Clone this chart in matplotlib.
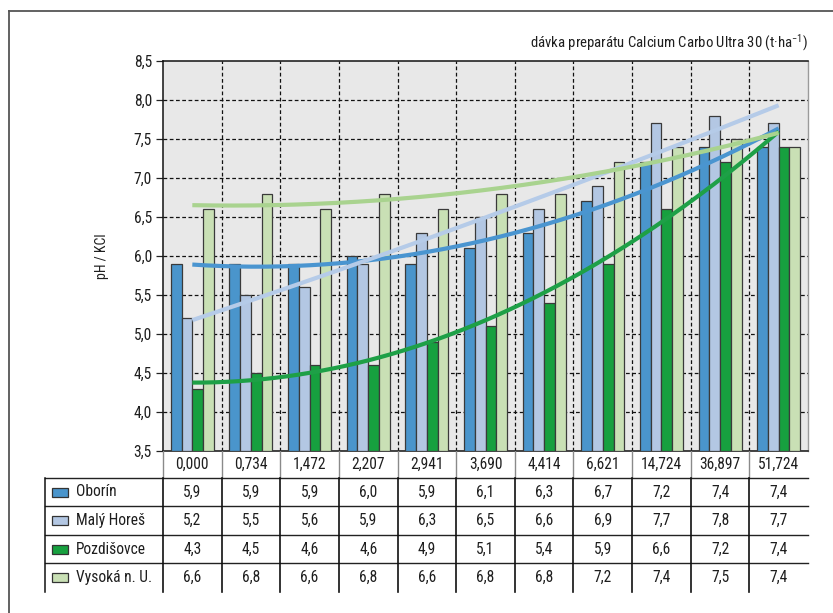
import numpy as np
import matplotlib
matplotlib.use("Agg")
import matplotlib.pyplot as plt
from matplotlib import font_manager as fm
from matplotlib.transforms import blended_transform_factory
from matplotlib.patches import Rectangle
from matplotlib.lines import Line2D

# ---- data -------------------------------------------------------------
doses = ["0,000", "0,734", "1,472", "2,207", "2,941", "3,690",
         "4,414", "6,621", "14,724", "36,897", "51,724"]
series_names = ["Oborín", "Malý Horeš", "Pozdišovce", "Vysoká n. U."]
oborin = [5.9, 5.9, 5.9, 6.0, 5.9, 6.1, 6.3, 6.7, 7.2, 7.4, 7.4]
maly_hores = [5.2, 5.5, 5.6, 5.9, 6.3, 6.5, 6.6, 6.9, 7.7, 7.8, 7.7]
pozdisovce = [4.3, 4.5, 4.6, 4.6, 4.9, 5.1, 5.4, 5.9, 6.6, 7.2, 7.4]
vysoka = [6.6, 6.8, 6.6, 6.8, 6.6, 6.8, 6.8, 7.2, 7.4, 7.5, 7.4]
y_ticks = [3.5, 4.0, 4.5, 5.0, 5.5, 6.0, 6.5, 7.0, 7.5, 8.0, 8.5]

all_series = [oborin, maly_hores, pozdisovce, vysoka]
bar_colors = ["#4a95cc", "#b3c7e3", "#17a03f", "#c9e0b5"]
trend_colors = ["#4a95d0", "#b5cbe8", "#1ea047", "#a9d38f"]

# ---- fonts: prefer a narrow sans if one is available ----------------
names = {f.name for f in fm.fontManager.ttflist}
FONT = "Liberation Sans"
for cand in ["Liberation Sans Narrow", "Roboto Condensed", "Arial Narrow",
             "Noto Sans Condensed", "Open Sans Condensed"]:
    if cand in names:
        FONT = cand
        break
plt.rcParams["font.family"] = [FONT, "DejaVu Sans"]
plt.rcParams["mathtext.fontset"] = "custom"
plt.rcParams["mathtext.rm"] = FONT
plt.rcParams["mathtext.it"] = FONT
TXT = "#1e1e1e"
FS = 11.2

W, H = 833, 613
fig = plt.figure(figsize=(W / 100, H / 100), dpi=100)
fig.patch.set_facecolor("white")


def fy(px):
    """figure fraction from a pixel row measured from the top"""
    return 1 - px / H


def fx(px):
    return px / W


# plot area
L, R, T, B = 163, 808, 61, 451
ax = fig.add_axes([fx(L), fy(B), fx(R - L), (B - T) / H])
ax.set_facecolor("#e8e8e8")
n = len(doses)
x = np.arange(n)
ax.set_xlim(-0.5, n - 0.5)
ax.set_ylim(3.5, 8.5)

bw = 0.183
offsets = (np.arange(4) - 1.5) * bw
for vals, off, c in zip(all_series, offsets, bar_colors):
    ax.bar(x + off, np.array(vals) - 3.5, bw, bottom=3.5, color=c,
           edgecolor="#3a3a3a", linewidth=0.9, zorder=3)

# second-order polynomial trend lines
xs = np.linspace(0, n - 1, 200)
for vals, c in zip(all_series, trend_colors):
    coef = np.polyfit(x, vals, 2)
    ax.plot(xs, np.polyval(coef, xs), color=c, lw=3.0,
            solid_capstyle="butt", zorder=5)

# dashed grid
for yv in y_ticks[1:-1]:
    ax.axhline(yv, color="#111111", lw=0.9, ls=(0, (3, 2)), zorder=1)
for xv in np.arange(0.5, n - 1, 1.0):
    ax.axvline(xv, color="#111111", lw=0.9, ls=(0, (3, 2)), zorder=1)

ax.set_yticks(y_ticks)
ax.set_yticklabels([f"{v:.1f}".replace(".", ",") for v in y_ticks],
                   fontsize=FS, color=TXT)
ax.tick_params(axis="y", length=5, width=0.9, color="#222", pad=3)
ax.set_xticks([])
for s in ["top", "left", "bottom"]:
    ax.spines[s].set_color("#111111")
    ax.spines[s].set_linewidth(1.1)
ax.spines["right"].set_color("#9a9a9a")
ax.spines["right"].set_linewidth(1.0)

ax.set_ylabel("pH / KCl", fontsize=10, color=TXT, labelpad=18)

fig.text(fx(R), fy(43), "dávka preparátu Calcium Carbo Ultra 30 (t·ha$^{\\mathregular{-1}}$)",
         ha="right", va="center", fontsize=10.6, color=TXT)

# ---- data table beneath the plot ------------------------------------
tr = blended_transform_factory(ax.transData, fig.transFigure)
rows_top = [451, 478, 506, 535, 563, 592]
LEG_L = 45

# header row with dose values
for i, lab in enumerate(doses):
    fig.text(0, 0, lab, transform=tr, fontsize=FS, color=TXT,
             ha="center", va="center").set_position((i, fy(464.5)))
for xv in np.arange(-0.5, n - 1, 1.0):
    fig.add_artist(Line2D([xv, xv], [fy(451), fy(478)], transform=tr,
                          color="#8a8a8a", lw=1.0))

# horizontal rules of the body rows
for yp in rows_top[1:5]:
    fig.add_artist(Line2D([fx(LEG_L), fx(R)], [fy(yp), fy(yp)],
                          transform=fig.transFigure, color="#222", lw=1.0))
# vertical rules
fig.add_artist(Line2D([fx(LEG_L), fx(LEG_L)], [fy(478), fy(592)],
                      transform=fig.transFigure, color="#111", lw=1.1))
for xv in np.arange(-0.5, n - 1, 1.0):
    fig.add_artist(Line2D([xv, xv], [fy(478), fy(592)], transform=tr,
                          color="#111", lw=1.2))

for r, (name, vals, c) in enumerate(zip(series_names, all_series, bar_colors)):
    yc = (rows_top[r + 1] + rows_top[r + 2]) / 2
    fig.add_artist(Rectangle((fx(52), fy(yc + 4.5)), fx(16), 9 / H,
                             transform=fig.transFigure, facecolor=c,
                             edgecolor="#333", lw=0.9))
    fig.text(fx(76), fy(yc), name, fontsize=FS, color=TXT,
             ha="left", va="center")
    for i, v in enumerate(vals):
        fig.text(0, 0, f"{v:.1f}".replace(".", ","), transform=tr,
                 fontsize=FS, color=TXT, ha="center",
                 va="center").set_position((i, fy(yc)))

# frame around the figure
fig.add_artist(Line2D([fx(9), 1], [fy(11), fy(11)], transform=fig.transFigure,
                      color="#555", lw=1.3))
fig.add_artist(Line2D([fx(9), fx(9)], [fy(11), 0], transform=fig.transFigure,
                      color="#555", lw=1.3))

fig.savefig("out.png", dpi=100)
